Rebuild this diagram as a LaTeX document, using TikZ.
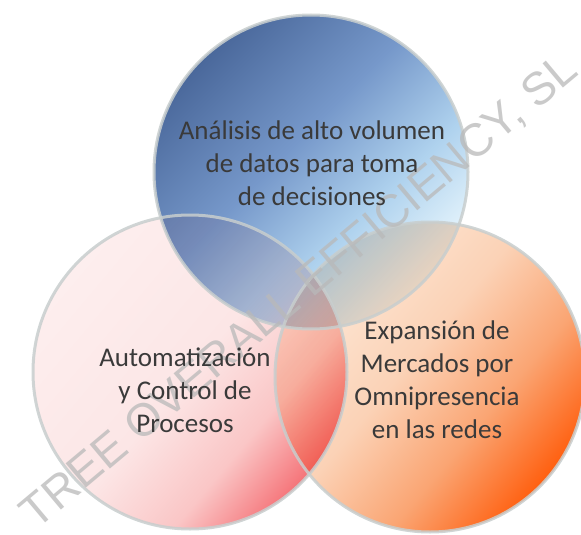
\documentclass[tikz,border=0pt]{standalone}
\usepackage{fontspec}
\setmainfont{Carlito}
\newfontfamily\wmfont{Liberation Sans}
\definecolor{bA}{RGB}{74,104,155}
\definecolor{bB}{RGB}{118,152,202}
\definecolor{bC}{RGB}{175,210,238}
\definecolor{bD}{RGB}{234,247,253}
\definecolor{pA}{RGB}{253,238,238}
\definecolor{pB}{RGB}{252,230,230}
\definecolor{pC}{RGB}{250,198,198}
\definecolor{pD}{RGB}{245,115,120}
\definecolor{oA}{RGB}{253,234,218}
\definecolor{oB}{RGB}{251,210,182}
\definecolor{oC}{RGB}{250,165,115}
\definecolor{oD}{RGB}{255,95,15}
\definecolor{rim}{RGB}{200,206,206}
\definecolor{txt}{RGB}{58,58,58}
\definecolor{wmgray}{RGB}{185,185,185}
\pgfdeclarehorizontalshading{blueSh}{100bp}{color(0bp)=(bA); color(25bp)=(bA); color(45bp)=(bB); color(61bp)=(bC); color(75bp)=(bD); color(100bp)=(bD)}
\pgfdeclarehorizontalshading{pinkSh}{100bp}{color(0bp)=(pA); color(25bp)=(pA); color(50bp)=(pB); color(64bp)=(pC); color(75bp)=(pD); color(100bp)=(pD)}
\pgfdeclarehorizontalshading{orangeSh}{100bp}{color(0bp)=(oA); color(25bp)=(oA); color(46bp)=(oB); color(61bp)=(oC); color(75bp)=(oD); color(100bp)=(oD)}
\tikzset{
  rimline/.style={draw=rim, line width=3pt, draw opacity=0.85},
  lbl/.style={font=\fontsize{27}{33}\selectfont, text=txt, align=center, inner sep=0pt},
  wm/.style={font=\wmfont\fontsize{46}{50}\selectfont, text=wmgray, text opacity=0.75, inner sep=0pt}
}
\begin{document}
\begin{tikzpicture}[x=1pt,y=-1pt]
\fill[white] (0,0) rectangle (581,535);
\useasboundingbox (0,0) rectangle (581,535);
\coordinate (cT) at (311,172);
\coordinate (cL) at (190,372);
\coordinate (cR) at (430,377);
\begin{scope}[blend mode=multiply]
  \shade[shading=pinkSh, shading angle=-40] (cL) circle[radius=157];
  \shade[shading=orangeSh, shading angle=-40] (cR) circle[radius=155];
  \shade[shading=blueSh, shading angle=-45] (cT) circle[radius=157];
\end{scope}
\draw[rimline] (cT) circle[radius=157];
\draw[rimline] (cL) circle[radius=157];
\draw[rimline] (cR) circle[radius=155];
\node[wm, rotate=40] (wm) at (300,292) {TREE OVERALL EFFICIENCY, SL};
\node[lbl] (tT) at (312,163) {Análisis de alto volumen\\de datos para toma\\de decisiones};
\node[lbl] (tL) at (185,390) {Automatización\\y Control de\\Procesos};
\node[lbl] (tR) at (437,380) {Expansión de\\Mercados por\\Omnipresencia\\en las redes};
\end{tikzpicture}
\end{document}
